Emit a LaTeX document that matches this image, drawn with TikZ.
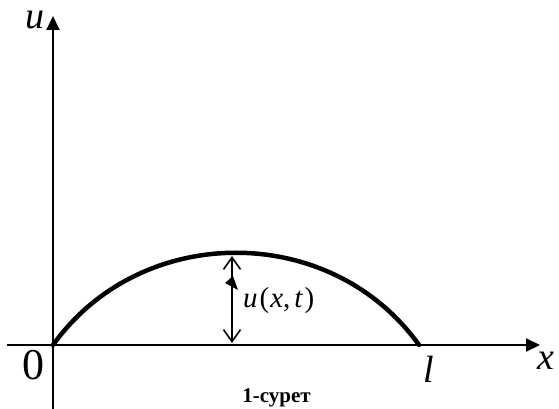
\documentclass[tikz,border=0pt]{standalone}
\usepackage{fontspec}
\setmainfont{Liberation Serif}
\usetikzlibrary{arrows.meta}
\definecolor{ink}{HTML}{000000}
\tikzset{
 every node/.append style={text=ink,inner sep=0pt},
 axis/.style={draw=ink,line width=2pt,-{Triangle[length=14pt,width=13pt]}},
 profile/.style={draw=ink,line width=4.5pt},
 span/.style={draw=ink,line width=1.6pt,{Straight Barb[length=12pt,width=17pt]}-{Straight Barb[length=12pt,width=17pt]}},
 axlabel/.style={font=\fontsize{38}{40}\selectfont\itshape,anchor=base},
 caption/.style={font=\fontsize{21}{24}\selectfont\bfseries,anchor=base},
}

\begin{document}
\begin{tikzpicture}[x=1pt,y=1pt]

\useasboundingbox (0,0) rectangle (559,409);
\coordinate (o) at (53,64);
\coordinate (xs) at (7,64);
\coordinate (xe) at (540,64);
\coordinate (ys) at (53,0);
\coordinate (ye) at (53,393);
\coordinate (l) at (419,64);
\coordinate (top) at (232,153);
\coordinate (foot) at (232,66);
\draw[axis] (xs) -- (xe);
\draw[axis] (ys) -- (ye);
\draw[profile,line cap=round] (o) .. controls (141,187) and (331,187) .. (l);
\draw[span] (foot) -- (top);
\fill[ink] (225,126) -- (233,133) -- (238,119) -- cycle;
\node[axlabel] (ulab) at (34.5,380) {u};
\node[axlabel] (xlab) at (546,39) {x};
\node[axlabel] (llab) at (429,26) {l};
\node[axlabel,font=\fontsize{44}{46}\selectfont] (zero) at (34,29) {0};
\node[font=\fontsize{29}{32}\selectfont,anchor=west] (ulab2) at (243,108) {\textit{u}\kern2pt(\kern1pt\textit{x},\kern4pt\textit{t}\kern1.5pt)};
\node[caption] (cap) at (276.5,6) {1-сурет};

\end{tikzpicture}
\end{document}
